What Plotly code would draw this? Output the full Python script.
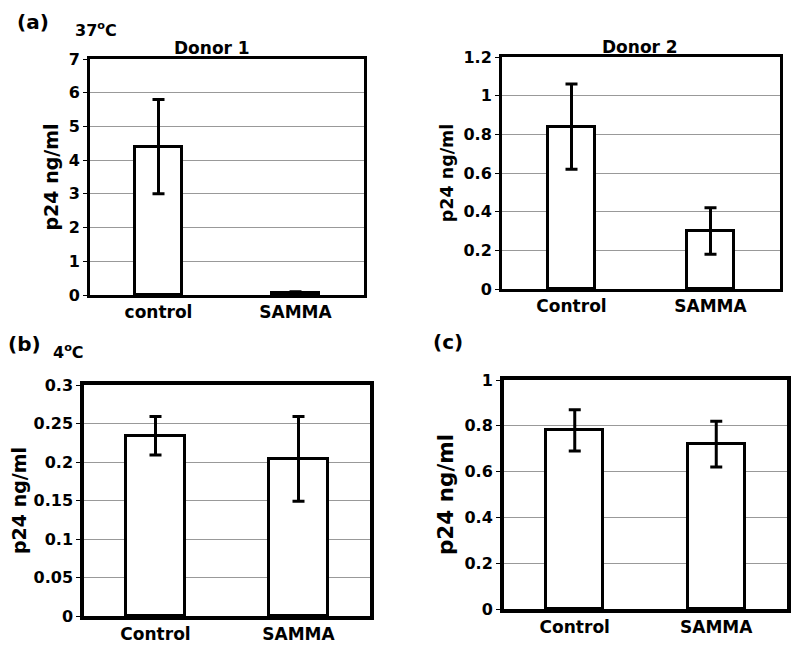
import plotly.graph_objects as go

# ---- data ----
cats_a1 = ["control", "SAMMA"]
vals_a1 = [4.4, 0.07]
err_a1 = [1.4, 0.03]

cats_a2 = ["Control", "SAMMA"]
vals_a2 = [0.84, 0.30]
err_a2 = [0.22, 0.12]

cats_b = ["Control", "SAMMA"]
vals_b = [0.234, 0.204]
err_b = [0.025, 0.055]

cats_c = ["Control", "SAMMA"]
vals_c = [0.78, 0.72]
err_c = [0.09, 0.10]

FONT = "DejaVu Sans"
W, H = 792, 640  # page body has an 8px margin


def px(x):
    return (x - 8) / W


def py(y):
    return 1 - (y - 8) / H


fig = go.Figure()

panels = [
    # cats, vals, err, axis id, bar width, y range, dtick, (x0,x1,y0,y1) ref px, line width, title size
    (cats_a1, vals_a1, err_a1, "", 0.34, [0, 7], 1, (90, 364, 59, 295), 3, 19),
    (cats_a2, vals_a2, err_a2, "2", 0.34, [0, 1.2], 0.2, (502, 780, 57, 289), 3, 17.5),
    (cats_b, vals_b, err_b, "3", 0.41, [0, 0.3], 0.05, (84, 370, 385, 616), 3.5, 19),
    (cats_c, vals_c, err_c, "4", 0.40, [0, 1], 0.2, (504, 787, 380, 609), 4, 21.5),
]

layout = {}
for cats, vals, err, ax, bw, yr, dt, box, lw, ts in panels:
    x0, x1, y0, y1 = box
    fig.add_trace(go.Bar(
        x=cats, y=vals, width=bw,
        marker=dict(color="white", line=dict(color="black", width=3)),
        error_y=dict(type="data", array=err, visible=True, color="black",
                     thickness=3, width=6),
        xaxis="x" + ax, yaxis="y" + ax, showlegend=False,
    ))
    layout["xaxis" + ax] = dict(
        domain=[px(x0), px(x1)], anchor="y" + ax, showline=True, mirror=True,
        linecolor="black", linewidth=lw, showgrid=False, ticks="", automargin=False,
        tickfont=dict(family=FONT, size=17, color="black", weight="bold"),
    )
    layout["yaxis" + ax] = dict(
        domain=[py(y1), py(y0)], anchor="x" + ax, range=yr, dtick=dt,
        showline=True, mirror=True, linecolor="black", linewidth=lw,
        showgrid=True, gridcolor="#999999", gridwidth=1, ticks="outside",
        ticklen=4, tickcolor="black", zeroline=False, automargin=False,
        tickfont=dict(family=FONT, size=16, color="black", weight="bold"),
        title=dict(text="p24 ng/ml", standoff=6,
                   font=dict(family=FONT, size=ts, color="black", weight="bold")),
    )

fig.update_layout(
    width=W, height=H, margin=dict(l=0, r=0, t=0, b=0, autoexpand=False),
    plot_bgcolor="white", paper_bgcolor="white", bargap=0,
    **layout,
)


def ann(text, x, y, size, xanchor="left"):
    fig.add_annotation(text=text, x=px(x), y=py(y), xref="paper", yref="paper",
                       xanchor=xanchor, yanchor="middle", showarrow=False,
                       font=dict(family=FONT, size=size, color="black", weight="bold"))


ann("(a)", 15, 22, 20)
ann("37<sup>o</sup>C", 73, 29, 16)
ann("Donor 1", 212, 48, 17, "center")
ann("Donor 2", 640, 47, 17, "center")
ann("(b)", 6, 344, 20)
ann("4<sup>o</sup>C", 51, 351, 16)
ann("(c)", 431, 342, 20)

fig.write_html("out.html")
